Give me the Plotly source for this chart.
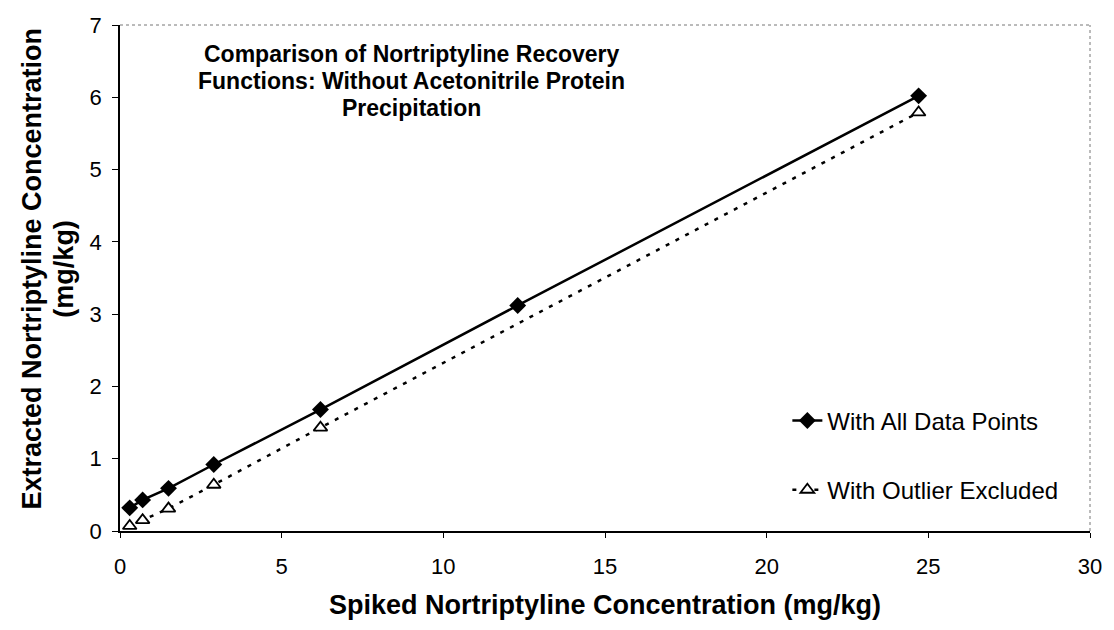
import plotly.graph_objects as go

# spiked concentration (mg/kg)
spiked_all = [0.3, 0.7, 1.5, 2.9, 6.2, 12.3, 24.7]
extracted_all = [0.32, 0.43, 0.59, 0.92, 1.68, 3.12, 6.02]

spiked_excl = [0.3, 0.7, 1.5, 2.9, 6.2, 24.7]
extracted_excl = [0.07, 0.15, 0.31, 0.64, 1.43, 5.79]

x_ticks = [0, 5, 10, 15, 20, 25, 30]
y_ticks = [0, 1, 2, 3, 4, 5, 6, 7]

title_lines = [
    "Comparison of Nortriptyline Recovery",
    "Functions: Without Acetonitrile Protein",
    "Precipitation",
]

FONT = "Liberation Sans, Arial, sans-serif"

fig = go.Figure()
fig.add_trace(go.Scatter(
    x=spiked_all, y=extracted_all, mode="lines+markers", name="With All Data Points",
    legendgroup="a",
    line=dict(color="black", width=2.5),
    marker=dict(symbol="diamond", size=13, color="black"),
))
fig.add_trace(go.Scatter(
    x=spiked_excl, y=extracted_excl, mode="lines+markers", name="With Outlier Excluded",
    legendgroup="b",
    line=dict(color="black", width=2.5, dash="4px,7px"),
    marker=dict(symbol="triangle-up", size=12, color="white", line=dict(color="black", width=1.8)),
))

# dotted frame on top/right like the original
fig.add_shape(type="line", xref="paper", yref="paper", x0=0, x1=1, y0=1, y1=1,
              line=dict(color="#777", width=1, dash="dot"))
fig.add_shape(type="line", xref="paper", yref="paper", x0=1, x1=1, y0=0, y1=1,
              line=dict(color="#777", width=1, dash="dot"))

# title lines placed one by one (tighter line spacing than plotly's default)
for i, line in enumerate(title_lines):
    fig.add_annotation(
        text=f"<b>{line}</b>", xref="paper", yref="paper",
        x=0.301, y=0.943 - i * 0.0534, xanchor="center", yanchor="middle",
        showarrow=False, font=dict(family=FONT, size=23, color="black"),
    )

fig.add_annotation(
    text="<b>Extracted Nortriptyline Concentration</b>",
    xref="paper", yref="paper", x=-0.091, y=0.518, xanchor="center", yanchor="middle",
    textangle=-90, showarrow=False, font=dict(family=FONT, size=27, color="black"),
)
fig.add_annotation(
    text="<b>(mg/kg)</b>",
    xref="paper", yref="paper", x=-0.058, y=0.518, xanchor="center", yanchor="middle",
    textangle=-90, showarrow=False, font=dict(family=FONT, size=27, color="black"),
)
fig.add_annotation(
    text="<b>Spiked Nortriptyline Concentration (mg/kg)</b>",
    xref="paper", yref="paper", x=0.5, y=-0.113, xanchor="center", yanchor="top",
    showarrow=False, font=dict(family=FONT, size=27, color="black"),
)

fig.update_layout(
    width=1114, height=630,
    margin=dict(l=120, r=18, t=25, b=99),
    paper_bgcolor="white", plot_bgcolor="white",
    font=dict(family=FONT, size=22, color="black"),
    legend=dict(
        x=0.688, y=0.262, xanchor="left", yanchor="top",
        bgcolor="rgba(0,0,0,0)", font=dict(family=FONT, size=24),
        tracegroupgap=35,
    ),
    xaxis=dict(
        range=[0, 30], tickvals=x_ticks, showgrid=False, zeroline=False,
        showline=True, linecolor="black", linewidth=1.5,
        ticks="outside", ticklen=5, tickcolor="black", ticklabelstandoff=10,
    ),
    yaxis=dict(
        range=[0, 7], tickvals=y_ticks, showgrid=False, zeroline=False,
        showline=True, linecolor="black", linewidth=1.5,
        ticks="outside", ticklen=6, tickcolor="black", ticklabelstandoff=6,
    ),
)

# drop the default body margin so the 1114x630 figure fills the window exactly
fig.write_html("out.html", config={"displayModeBar": False},
               post_script="document.body.style.margin='0px';")
